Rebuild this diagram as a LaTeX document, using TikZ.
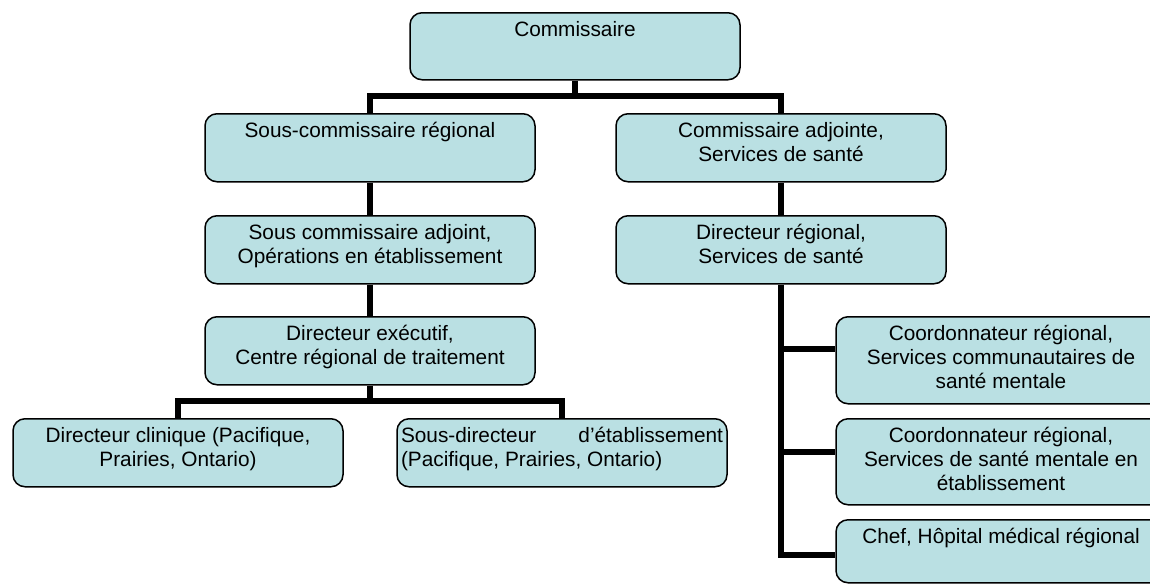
\documentclass[tikz,border=0pt]{standalone}
\usepackage{fontspec}
\setmainfont{Liberation Sans}
\definecolor{boxfill}{RGB}{186,224,227}
\newcommand{\bxtext}[2]{\parbox[c][#1][t]{322pt}{\centering\rule{0pt}{24pt}#2}}
\tikzset{
  bx/.style={draw=black, line width=1.5pt, fill=boxfill, rounded corners=12pt,
    minimum width=330pt, inner sep=0pt, anchor=north,
    font=\fontsize{20.8}{24}\selectfont},
  conn/.style={draw=black, line width=6pt, line join=miter}
}
\begin{document}
\begin{tikzpicture}[x=1pt, y=-1pt]
\useasboundingbox (0,0) rectangle (1150,584);
\clip (0,0) rectangle (1150,584);
% boxes
\node[bx] (com) at (575,12) {\bxtext{67pt}{Commissaire}};
\node[bx] (sr) at (370,113) {\bxtext{68pt}{Sous-commissaire régional}};
\node[bx] (ca) at (781,113) {\bxtext{68pt}{Commissaire adjointe,\\Services de santé}};
\node[bx] (sca) at (370,215) {\bxtext{68pt}{Sous commissaire adjoint,\\Opérations en établissement}};
\node[bx] (dr) at (781,215) {\bxtext{68pt}{Directeur régional,\\Services de santé}};
\node[bx] (de) at (370,316) {\bxtext{68pt}{Directeur exécutif,\\Centre régional de traitement}};
\node[bx] (dc) at (178,418) {\bxtext{68pt}{Directeur clinique (Pacifique,\\Prairies, Ontario)}};
\node[bx] (sd) at (562,418) {\parbox[c][68pt][t]{322pt}{\rule{0pt}{24pt}\makebox[322pt][s]{Sous-directeur d’établissement}\\(Pacifique, Prairies, Ontario)}};
\node[bx] (c1) at (1001,316) {\bxtext{87pt}{Coordonnateur régional,\\Services communautaires de\\santé mentale}};
\node[bx] (c2) at (1001,418) {\bxtext{86pt}{Coordonnateur régional,\\Services de santé mentale en\\établissement}};
\node[bx] (c3) at (1001,519) {\bxtext{63pt}{Chef, Hôpital médical régional}};
% junction points
\coordinate (t1) at (575,96);
\coordinate (t2) at (370,401);
\coordinate (j1) at (781,349);
\coordinate (j2) at (781,452);
\coordinate (j3) at (781,555);
% connectors
\draw[conn] (com.south) -- (t1);
\draw[conn] (sr.north) |- (t1) -| (ca.north);
\draw[conn] (sr.south) -- (sca.north);
\draw[conn] (sca.south) -- (de.north);
\draw[conn] (ca.south) -- (dr.north);
\draw[conn] (de.south) -- (t2);
\draw[conn] (dc.north) |- (t2) -| (sd.north);
\draw[conn] (dr.south) |- (j3 -| c3.west);
\draw[conn] (j1) -- (j1 -| c1.west);
\draw[conn] (j2) -- (j2 -| c2.west);
\end{tikzpicture}
\end{document}
